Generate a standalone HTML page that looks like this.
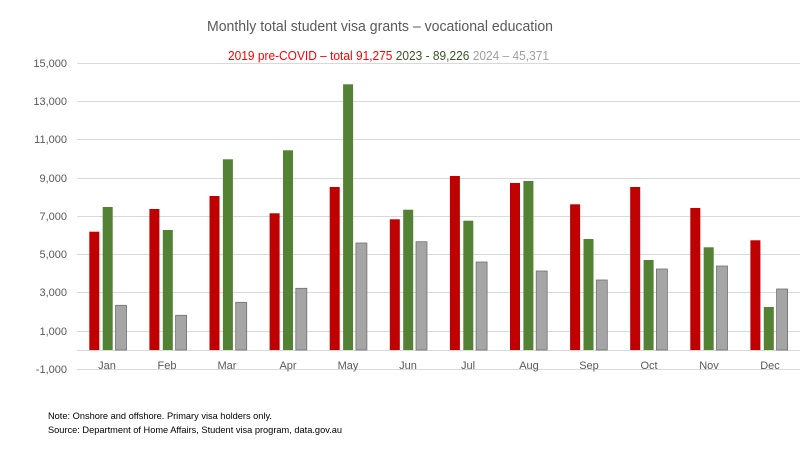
<!DOCTYPE html>
<html><head><meta charset="utf-8"><style>
html,body{margin:0;padding:0;background:#fff;}
svg{display:block;font-family:"Liberation Sans",sans-serif;}
</style></head><body>
<svg width="800" height="450" viewBox="0 0 800 450" xmlns="http://www.w3.org/2000/svg">
<rect width="800" height="450" fill="#fff"/>
<text x="207" y="31" font-size="15" fill="#595959" textLength="346" lengthAdjust="spacingAndGlyphs">Monthly total student visa grants – vocational education</text>
<text x="228" y="60" font-size="13" textLength="321" lengthAdjust="spacingAndGlyphs"><tspan fill="#FF0000">2019 pre-COVID – total 91,275 </tspan><tspan fill="#375623">2023  - 89,226 </tspan><tspan fill="#A0A0A0">2024 – 45,371</tspan></text>
<g stroke="#D9D9D9" stroke-width="1">
<line x1="77" x2="800" y1="63.5" y2="63.5"/>
<line x1="77" x2="800" y1="101.5" y2="101.5"/>
<line x1="77" x2="800" y1="139.5" y2="139.5"/>
<line x1="77" x2="800" y1="178.5" y2="178.5"/>
<line x1="77" x2="800" y1="216.5" y2="216.5"/>
<line x1="77" x2="800" y1="254.5" y2="254.5"/>
<line x1="77" x2="800" y1="292.5" y2="292.5"/>
<line x1="77" x2="800" y1="331.5" y2="331.5"/>
<line x1="77" x2="800" y1="350.5" y2="350.5"/>
<line x1="77" x2="800" y1="369.5" y2="369.5"/>
</g>
<g font-size="11" fill="#595959" text-anchor="end">
<text x="67" y="67">15,000</text>
<text x="67" y="105">13,000</text>
<text x="67" y="143">11,000</text>
<text x="67" y="182">9,000</text>
<text x="67" y="220">7,000</text>
<text x="67" y="258">5,000</text>
<text x="67" y="296">3,000</text>
<text x="67" y="335">1,000</text>
<text x="67" y="373">-1,000</text>
</g>
<g id="bars"></g>
<g font-size="11" fill="#595959" text-anchor="middle">
<text x="107" y="369">Jan</text><text x="167" y="369">Feb</text><text x="227" y="369">Mar</text>
<text x="288" y="369">Apr</text><text x="348" y="369">May</text><text x="408" y="369">Jun</text>
<text x="468" y="369">Jul</text><text x="529" y="369">Aug</text><text x="589" y="369">Sep</text>
<text x="649" y="369">Oct</text><text x="709" y="369">Nov</text><text x="770" y="369">Dec</text>
</g>
<text x="48" y="419" font-size="9.5" fill="#000" textLength="224" lengthAdjust="spacingAndGlyphs">Note: Onshore and offshore. Primary visa holders only.</text>
<text x="48" y="433" font-size="9.5" fill="#000" textLength="294" lengthAdjust="spacingAndGlyphs">Source:  Department of Home Affairs, Student visa program, data.gov.au</text>
<g>
<!-- bars -->
<rect x="89.3" y="231.7" width="10" height="118.3" fill="#C00000"/>
<rect x="102.7" y="207" width="10" height="143" fill="#548235"/>
<rect x="115.5" y="305.3" width="11" height="44.7" fill="#A5A5A5" stroke="#707070" stroke-width="0.8"/>
<rect x="149.4" y="209" width="10" height="141" fill="#C00000"/>
<rect x="162.8" y="230" width="10" height="120" fill="#548235"/>
<rect x="175.6" y="315.3" width="11" height="34.7" fill="#A5A5A5" stroke="#707070" stroke-width="0.8"/>
<rect x="209.5" y="196" width="10" height="154" fill="#C00000"/>
<rect x="222.9" y="159.3" width="10" height="190.7" fill="#548235"/>
<rect x="235.7" y="302.3" width="11" height="47.7" fill="#A5A5A5" stroke="#707070" stroke-width="0.8"/>
<rect x="269.6" y="213.3" width="10" height="136.7" fill="#C00000"/>
<rect x="283" y="150.3" width="10" height="199.7" fill="#548235"/>
<rect x="295.8" y="288.3" width="11" height="61.7" fill="#A5A5A5" stroke="#707070" stroke-width="0.8"/>
<rect x="329.7" y="187" width="10" height="163" fill="#C00000"/>
<rect x="343.1" y="84.3" width="10" height="265.7" fill="#548235"/>
<rect x="355.9" y="243" width="11" height="107" fill="#A5A5A5" stroke="#707070" stroke-width="0.8"/>
<rect x="389.8" y="219.3" width="10" height="130.7" fill="#C00000"/>
<rect x="403.2" y="209.7" width="10" height="140.3" fill="#548235"/>
<rect x="416" y="241.7" width="11" height="108.3" fill="#A5A5A5" stroke="#707070" stroke-width="0.8"/>
<rect x="449.9" y="176" width="10" height="174" fill="#C00000"/>
<rect x="463.3" y="220.7" width="10" height="129.3" fill="#548235"/>
<rect x="476.1" y="262" width="11" height="88" fill="#A5A5A5" stroke="#707070" stroke-width="0.8"/>
<rect x="510" y="183" width="10" height="167" fill="#C00000"/>
<rect x="523.4" y="181" width="10" height="169" fill="#548235"/>
<rect x="536.2" y="271" width="11" height="79" fill="#A5A5A5" stroke="#707070" stroke-width="0.8"/>
<rect x="570.1" y="204.3" width="10" height="145.7" fill="#C00000"/>
<rect x="583.5" y="239" width="10" height="111" fill="#548235"/>
<rect x="596.3" y="280" width="11" height="70" fill="#A5A5A5" stroke="#707070" stroke-width="0.8"/>
<rect x="630.2" y="187" width="10" height="163" fill="#C00000"/>
<rect x="643.6" y="260" width="10" height="90" fill="#548235"/>
<rect x="656.4" y="269" width="11" height="81" fill="#A5A5A5" stroke="#707070" stroke-width="0.8"/>
<rect x="690.3" y="208" width="10" height="142" fill="#C00000"/>
<rect x="703.7" y="247.3" width="10" height="102.7" fill="#548235"/>
<rect x="716.5" y="266" width="11" height="84" fill="#A5A5A5" stroke="#707070" stroke-width="0.8"/>
<rect x="750.4" y="240.3" width="10" height="109.7" fill="#C00000"/>
<rect x="763.8" y="307" width="10" height="43" fill="#548235"/>
<rect x="776.6" y="289" width="11" height="61" fill="#A5A5A5" stroke="#707070" stroke-width="0.8"/>
</g>
</svg>
</body></html>
